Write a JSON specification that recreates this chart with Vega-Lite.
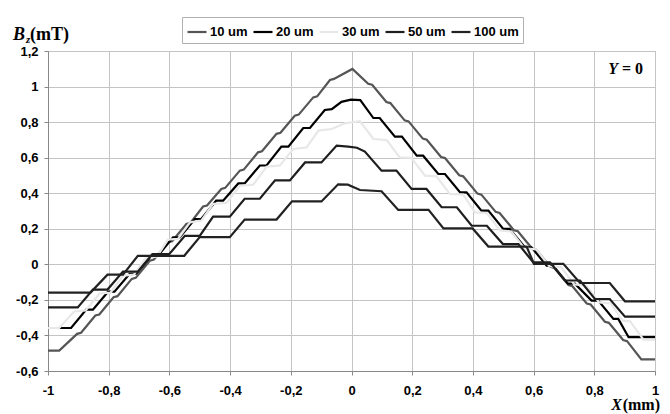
{
  "$schema": "https://vega.github.io/schema/vega-lite/v6.json",
  "width": 607,
  "height": 320,
  "autosize": {"type": "none"},
  "padding": {"left": 48, "top": 51, "right": 15, "bottom": 43},
  "background": "white",
  "config": {
    "view": {"stroke": "#888888", "strokeWidth": 1},
    "axis": {
      "labelFont": "Liberation Sans",
      "labelFontWeight": "bold",
      "labelFontSize": 13,
      "labelColor": "#000000",
      "labelOverlap": false,
      "labelBound": false,
      "gridColor": "#c4c4c4",
      "gridWidth": 1,
      "domainColor": "#888888",
      "tickColor": "#888888",
      "tickSize": 4
    },
    "legend": {
      "orient": "none",
      "legendX": 134,
      "legendY": -34,
      "direction": "horizontal",
      "symbolType": "stroke",
      "symbolSize": 361,
      "symbolStrokeWidth": 2.2,
      "labelFont": "Liberation Sans",
      "labelFontWeight": "bold",
      "labelFontSize": 13,
      "labelColor": "#000000",
      "labelOffset": 2,
      "columnPadding": 1,
      "padding": 4,
      "strokeColor": "#b0b0b0",
      "fillColor": "#ffffff",
      "title": null
    }
  },
  "encoding": {
    "x": {
      "field": "x", "type": "quantitative",
      "scale": {"domain": [-1, 1], "nice": false, "zero": false},
      "axis": {
        "title": null,
        "values": [-1, -0.8, -0.6, -0.4, -0.2, 0, 0.2, 0.4, 0.6, 0.8, 1],
        "labelExpr": "replace(replace(format(datum.value, '.1~f'), '.', ','), '\u2212', '-')",
        "labelPadding": 9,
        "labelFlush": false,
        "labelOverlap": false,
        "grid": true
      }
    },
    "y": {
      "field": "y", "type": "quantitative",
      "scale": {"domain": [-0.6, 1.2], "nice": false, "zero": false},
      "axis": {
        "title": null,
        "values": [-0.6, -0.4, -0.2, 0, 0.2, 0.4, 0.6, 0.8, 1, 1.2],
        "labelExpr": "replace(replace(format(datum.value, '.1~f'), '.', ','), '\u2212', '-')",
        "labelPadding": 6,
        "labelOverlap": false,
        "grid": true
      }
    }
  },
  "layer": [
    {
      "data": {
        "values": [
          {"s":"10 um","x":-1,"y":-0.485},{"s":"10 um","x":-0.963,"y":-0.485},
          {"s":"10 um","x":-0.904,"y":-0.391},{"s":"10 um","x":-0.891,"y":-0.385},
          {"s":"10 um","x":-0.844,"y":-0.288},{"s":"10 um","x":-0.831,"y":-0.282},
          {"s":"10 um","x":-0.784,"y":-0.185},{"s":"10 um","x":-0.771,"y":-0.179},
          {"s":"10 um","x":-0.724,"y":-0.082},{"s":"10 um","x":-0.711,"y":-0.076},
          {"s":"10 um","x":-0.664,"y":0.021},{"s":"10 um","x":-0.651,"y":0.027},
          {"s":"10 um","x":-0.604,"y":0.124},{"s":"10 um","x":-0.591,"y":0.13},
          {"s":"10 um","x":-0.544,"y":0.227},{"s":"10 um","x":-0.531,"y":0.233},
          {"s":"10 um","x":-0.489,"y":0.325},{"s":"10 um","x":-0.476,"y":0.331},
          {"s":"10 um","x":-0.429,"y":0.424},{"s":"10 um","x":-0.416,"y":0.43},
          {"s":"10 um","x":-0.368,"y":0.527},{"s":"10 um","x":-0.355,"y":0.533},
          {"s":"10 um","x":-0.308,"y":0.63},{"s":"10 um","x":-0.295,"y":0.636},
          {"s":"10 um","x":-0.247,"y":0.734},{"s":"10 um","x":-0.234,"y":0.74},
          {"s":"10 um","x":-0.187,"y":0.836},{"s":"10 um","x":-0.174,"y":0.842},
          {"s":"10 um","x":-0.126,"y":0.939},{"s":"10 um","x":-0.113,"y":0.945},
          {"s":"10 um","x":-0.071,"y":1.037},{"s":"10 um","x":-0.058,"y":1.043},
          {"s":"10 um","x":0.003,"y":1.099},
          {"s":"10 um","x":0.055,"y":1.016},{"s":"10 um","x":0.068,"y":1.01},
          {"s":"10 um","x":0.115,"y":0.913},{"s":"10 um","x":0.128,"y":0.907},
          {"s":"10 um","x":0.175,"y":0.81},{"s":"10 um","x":0.188,"y":0.804},
          {"s":"10 um","x":0.235,"y":0.707},{"s":"10 um","x":0.248,"y":0.701},
          {"s":"10 um","x":0.295,"y":0.604},{"s":"10 um","x":0.308,"y":0.598},
          {"s":"10 um","x":0.355,"y":0.501},{"s":"10 um","x":0.368,"y":0.495},
          {"s":"10 um","x":0.415,"y":0.398},{"s":"10 um","x":0.428,"y":0.392},
          {"s":"10 um","x":0.475,"y":0.295},{"s":"10 um","x":0.488,"y":0.289},
          {"s":"10 um","x":0.535,"y":0.192},{"s":"10 um","x":0.548,"y":0.186},
          {"s":"10 um","x":0.595,"y":0.089},{"s":"10 um","x":0.608,"y":0.083},
          {"s":"10 um","x":0.655,"y":-0.014},{"s":"10 um","x":0.668,"y":-0.02},
          {"s":"10 um","x":0.715,"y":-0.117},{"s":"10 um","x":0.728,"y":-0.123},
          {"s":"10 um","x":0.775,"y":-0.22},{"s":"10 um","x":0.788,"y":-0.226},
          {"s":"10 um","x":0.835,"y":-0.323},{"s":"10 um","x":0.848,"y":-0.329},
          {"s":"10 um","x":0.895,"y":-0.426},{"s":"10 um","x":0.908,"y":-0.432},
          {"s":"10 um","x":0.955,"y":-0.535},{"s":"10 um","x":1,"y":-0.535},

          {"s":"20 um","x":-1,"y":-0.358},{"s":"20 um","x":-0.924,"y":-0.358},
          {"s":"20 um","x":-0.874,"y":-0.255},{"s":"20 um","x":-0.852,"y":-0.255},
          {"s":"20 um","x":-0.802,"y":-0.154},{"s":"20 um","x":-0.781,"y":-0.154},
          {"s":"20 um","x":-0.731,"y":-0.053},{"s":"20 um","x":-0.709,"y":-0.053},
          {"s":"20 um","x":-0.659,"y":0.048},{"s":"20 um","x":-0.638,"y":0.048},
          {"s":"20 um","x":-0.588,"y":0.152},{"s":"20 um","x":-0.566,"y":0.152},
          {"s":"20 um","x":-0.516,"y":0.255},{"s":"20 um","x":-0.495,"y":0.255},
          {"s":"20 um","x":-0.446,"y":0.358},{"s":"20 um","x":-0.423,"y":0.358},
          {"s":"20 um","x":-0.373,"y":0.455},{"s":"20 um","x":-0.352,"y":0.455},
          {"s":"20 um","x":-0.302,"y":0.556},{"s":"20 um","x":-0.28,"y":0.556},
          {"s":"20 um","x":-0.231,"y":0.662},{"s":"20 um","x":-0.208,"y":0.662},
          {"s":"20 um","x":-0.159,"y":0.767},{"s":"20 um","x":-0.137,"y":0.767},
          {"s":"20 um","x":-0.088,"y":0.868},{"s":"20 um","x":-0.065,"y":0.873},
          {"s":"20 um","x":-0.033,"y":0.914},{"s":"20 um","x":-0.002,"y":0.926},
          {"s":"20 um","x":0.029,"y":0.924},{"s":"20 um","x":0.072,"y":0.823},
          {"s":"20 um","x":0.093,"y":0.823},{"s":"20 um","x":0.143,"y":0.718},
          {"s":"20 um","x":0.166,"y":0.718},{"s":"20 um","x":0.215,"y":0.611},
          {"s":"20 um","x":0.236,"y":0.611},{"s":"20 um","x":0.286,"y":0.508},
          {"s":"20 um","x":0.308,"y":0.508},{"s":"20 um","x":0.358,"y":0.405},
          {"s":"20 um","x":0.379,"y":0.405},{"s":"20 um","x":0.428,"y":0.302},
          {"s":"20 um","x":0.451,"y":0.302},{"s":"20 um","x":0.5,"y":0.199},
          {"s":"20 um","x":0.521,"y":0.199},{"s":"20 um","x":0.571,"y":0.096},
          {"s":"20 um","x":0.593,"y":0.096},{"s":"20 um","x":0.643,"y":-0.007},
          {"s":"20 um","x":0.664,"y":-0.007},{"s":"20 um","x":0.713,"y":-0.109},
          {"s":"20 um","x":0.736,"y":-0.109},{"s":"20 um","x":0.791,"y":-0.204},
          {"s":"20 um","x":0.813,"y":-0.204},{"s":"20 um","x":0.863,"y":-0.307},
          {"s":"20 um","x":0.879,"y":-0.307},{"s":"20 um","x":0.913,"y":-0.41},
          {"s":"20 um","x":1,"y":-0.41},

          {"s":"30 um","x":-1,"y":-0.358},{"s":"30 um","x":-0.963,"y":-0.358},
          {"s":"30 um","x":-0.914,"y":-0.265},{"s":"30 um","x":-0.876,"y":-0.26},
          {"s":"30 um","x":-0.83,"y":-0.164},{"s":"30 um","x":-0.794,"y":-0.159},
          {"s":"30 um","x":-0.753,"y":-0.063},{"s":"30 um","x":-0.717,"y":-0.058},
          {"s":"30 um","x":-0.677,"y":0.038},{"s":"30 um","x":-0.641,"y":0.043},
          {"s":"30 um","x":-0.605,"y":0.139},{"s":"30 um","x":-0.571,"y":0.144},
          {"s":"30 um","x":-0.532,"y":0.236},{"s":"30 um","x":-0.495,"y":0.246},
          {"s":"30 um","x":-0.456,"y":0.34},{"s":"30 um","x":-0.412,"y":0.345},
          {"s":"30 um","x":-0.368,"y":0.442},{"s":"30 um","x":-0.324,"y":0.448},
          {"s":"30 um","x":-0.28,"y":0.549},{"s":"30 um","x":-0.236,"y":0.556},
          {"s":"30 um","x":-0.192,"y":0.649},{"s":"30 um","x":-0.148,"y":0.658},
          {"s":"30 um","x":-0.109,"y":0.752},{"s":"30 um","x":-0.065,"y":0.761},
          {"s":"30 um","x":-0.022,"y":0.793},{"s":"30 um","x":0.028,"y":0.805},
          {"s":"30 um","x":0.072,"y":0.705},{"s":"30 um","x":0.116,"y":0.699},
          {"s":"30 um","x":0.159,"y":0.602},{"s":"30 um","x":0.198,"y":0.598},
          {"s":"30 um","x":0.242,"y":0.499},{"s":"30 um","x":0.28,"y":0.495},
          {"s":"30 um","x":0.324,"y":0.396},{"s":"30 um","x":0.368,"y":0.392},
          {"s":"30 um","x":0.407,"y":0.292},{"s":"30 um","x":0.446,"y":0.288},
          {"s":"30 um","x":0.489,"y":0.191},{"s":"30 um","x":0.527,"y":0.185},
          {"s":"30 um","x":0.57,"y":0.09},{"s":"30 um","x":0.609,"y":0.084},
          {"s":"30 um","x":0.652,"y":-0.011},{"s":"30 um","x":0.691,"y":-0.017},
          {"s":"30 um","x":0.734,"y":-0.113},{"s":"30 um","x":0.773,"y":-0.119},
          {"s":"30 um","x":0.816,"y":-0.214},{"s":"30 um","x":0.854,"y":-0.22},
          {"s":"30 um","x":0.893,"y":-0.316},{"s":"30 um","x":0.918,"y":-0.321},
          {"s":"30 um","x":0.962,"y":-0.424},{"s":"30 um","x":1,"y":-0.424},

          {"s":"50 um","x":-1,"y":-0.242},{"s":"50 um","x":-0.902,"y":-0.242},
          {"s":"50 um","x":-0.852,"y":-0.142},{"s":"50 um","x":-0.804,"y":-0.142},
          {"s":"50 um","x":-0.753,"y":-0.041},{"s":"50 um","x":-0.704,"y":-0.041},
          {"s":"50 um","x":-0.656,"y":0.058},{"s":"50 um","x":-0.6,"y":0.058},
          {"s":"50 um","x":-0.549,"y":0.16},{"s":"50 um","x":-0.5,"y":0.16},
          {"s":"50 um","x":-0.456,"y":0.268},{"s":"50 um","x":-0.401,"y":0.268},
          {"s":"50 um","x":-0.352,"y":0.369},{"s":"50 um","x":-0.302,"y":0.369},
          {"s":"50 um","x":-0.252,"y":0.472},{"s":"50 um","x":-0.203,"y":0.472},
          {"s":"50 um","x":-0.153,"y":0.573},{"s":"50 um","x":-0.099,"y":0.573},
          {"s":"50 um","x":-0.049,"y":0.668},{"s":"50 um","x":-0.011,"y":0.662},
          {"s":"50 um","x":0.018,"y":0.656},{"s":"50 um","x":0.044,"y":0.634},
          {"s":"50 um","x":0.099,"y":0.527},{"s":"50 um","x":0.148,"y":0.527},
          {"s":"50 um","x":0.198,"y":0.424},{"s":"50 um","x":0.247,"y":0.424},
          {"s":"50 um","x":0.297,"y":0.321},{"s":"50 um","x":0.347,"y":0.321},
          {"s":"50 um","x":0.396,"y":0.217},{"s":"50 um","x":0.446,"y":0.217},
          {"s":"50 um","x":0.499,"y":0.114},{"s":"50 um","x":0.55,"y":0.114},
          {"s":"50 um","x":0.599,"y":0.011},{"s":"50 um","x":0.654,"y":0.011},
          {"s":"50 um","x":0.703,"y":-0.091},{"s":"50 um","x":0.753,"y":-0.091},
          {"s":"50 um","x":0.802,"y":-0.195},{"s":"50 um","x":0.851,"y":-0.195},
          {"s":"50 um","x":0.901,"y":-0.294},{"s":"50 um","x":1,"y":-0.294},

          {"s":"100 um","x":-1,"y":-0.159},{"s":"100 um","x":-0.86,"y":-0.159},
          {"s":"100 um","x":-0.804,"y":-0.058},{"s":"100 um","x":-0.753,"y":-0.058},
          {"s":"100 um","x":-0.704,"y":0.048},{"s":"100 um","x":-0.551,"y":0.048},
          {"s":"100 um","x":-0.5,"y":0.153},{"s":"100 um","x":-0.401,"y":0.153},
          {"s":"100 um","x":-0.352,"y":0.252},{"s":"100 um","x":-0.247,"y":0.252},
          {"s":"100 um","x":-0.196,"y":0.354},{"s":"100 um","x":-0.099,"y":0.354},
          {"s":"100 um","x":-0.044,"y":0.45},{"s":"100 um","x":-0.012,"y":0.448},
          {"s":"100 um","x":0.028,"y":0.418},{"s":"100 um","x":0.099,"y":0.411},
          {"s":"100 um","x":0.154,"y":0.306},{"s":"100 um","x":0.254,"y":0.306},
          {"s":"100 um","x":0.303,"y":0.202},{"s":"100 um","x":0.399,"y":0.202},
          {"s":"100 um","x":0.451,"y":0.1},{"s":"100 um","x":0.577,"y":0.1},
          {"s":"100 um","x":0.601,"y":0.003},{"s":"100 um","x":0.698,"y":0.003},
          {"s":"100 um","x":0.753,"y":-0.105},{"s":"100 um","x":0.851,"y":-0.105},
          {"s":"100 um","x":0.901,"y":-0.208},{"s":"100 um","x":1,"y":-0.208}
        ]
      },
      "mark": {"type": "line", "strokeWidth": 2.2},
      "encoding": {
        "color": {
          "field": "s", "type": "nominal",
          "scale": {
            "domain": ["10 um", "20 um", "30 um", "50 um", "100 um"],
            "range": ["#555555", "#000000", "#e8e8e8", "#1e1e1e", "#222222"]
          },
          "legend": {"title": null}
        }
      }
    },
    {
      "data": {"values": [{"x": -1, "y": 1.2}]},
      "mark": {"type": "text", "text": "B", "font": "Liberation Serif", "fontWeight": "bold", "fontStyle": "italic", "fontSize": 18, "align": "left", "baseline": "alphabetic", "dx": -35, "dy": -11, "color": "#000000"}
    },
    {
      "data": {"values": [{"x": -1, "y": 1.2}]},
      "mark": {"type": "text", "text": "z", "font": "Liberation Serif", "fontWeight": "bold", "fontStyle": "italic", "fontSize": 11, "align": "left", "baseline": "alphabetic", "dx": -22, "dy": -8, "color": "#000000"}
    },
    {
      "data": {"values": [{"x": -1, "y": 1.2}]},
      "mark": {"type": "text", "text": "(mT)", "font": "Liberation Serif", "fontWeight": "bold", "fontSize": 18, "align": "left", "baseline": "alphabetic", "dx": -18, "dy": -11, "color": "#000000"}
    },
    {
      "data": {"values": [{"x": 1, "y": 1.2}]},
      "mark": {"type": "text", "text": "Y", "font": "Liberation Serif", "fontWeight": "bold", "fontStyle": "italic", "fontSize": 16, "align": "right", "baseline": "alphabetic", "dx": -37, "dy": 23, "color": "#000000"}
    },
    {
      "data": {"values": [{"x": 1, "y": 1.2}]},
      "mark": {"type": "text", "text": "= 0", "font": "Liberation Serif", "fontWeight": "bold", "fontSize": 16, "align": "right", "baseline": "alphabetic", "dx": -12, "dy": 23, "color": "#000000"}
    },
    {
      "data": {"values": [{"x": 1, "y": -0.6}]},
      "mark": {"type": "text", "text": "X", "font": "Liberation Serif", "fontWeight": "bold", "fontStyle": "italic", "fontSize": 16, "align": "right", "baseline": "alphabetic", "dx": -33, "dy": 39, "color": "#000000"}
    },
    {
      "data": {"values": [{"x": 1, "y": -0.6}]},
      "mark": {"type": "text", "text": "(mm)", "font": "Liberation Serif", "fontWeight": "bold", "fontSize": 16, "align": "right", "baseline": "alphabetic", "dx": 5, "dy": 39, "color": "#000000"}
    }
  ]
}
